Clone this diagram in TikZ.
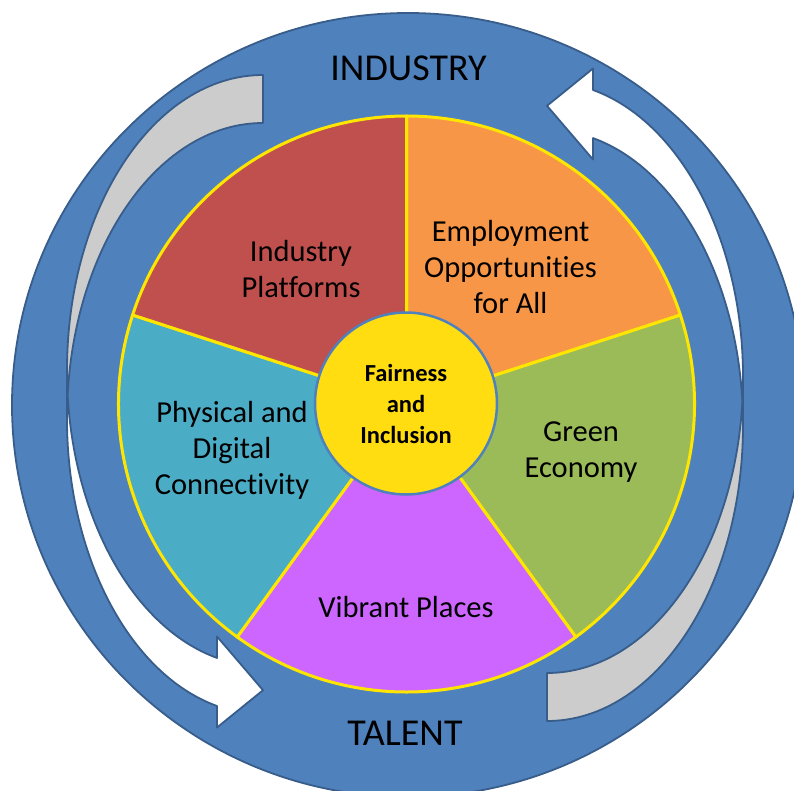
\documentclass[tikz,border=0pt]{standalone}
\usepackage{fontspec}
\setmainfont{Carlito}[Ligatures=NoCommon]
\definecolor{ringfill}{HTML}{4F81BD}
\definecolor{ringline}{HTML}{385D8A}
\definecolor{backgray}{HTML}{CCCCCC}
\definecolor{segred}{HTML}{C0504D}
\definecolor{segorange}{HTML}{F79646}
\definecolor{seggreen}{HTML}{9BBB59}
\definecolor{segpurple}{HTML}{CC66FF}
\definecolor{segteal}{HTML}{4BACC6}
\definecolor{hubyellow}{HTML}{FFDD11}
\definecolor{rimyellow}{HTML}{FFE600}
% one curved band arrow: tail at the top, head at the bottom pointing right
\newcommand{\bandarrow}{%
  \fill[white] (67,370.6)
    arc[start angle=180,end angle=103.57,x radius=196,y radius=295.6]
    -- (217,636.5) -- (263,690.2) -- (217,727.5) -- (217,706)
    arc[start angle=103.57,end angle=180,x radius=196,y radius=295.6] -- cycle;
  \fill[backgray] (263,75)
    arc[start angle=270,end angle=175.34,x radius=196,y radius=295.6]
    arc[start angle=184.66,end angle=270,x radius=196,y radius=295.6] -- cycle;
  \draw[arrowedge] (67,370.6)
    arc[start angle=180,end angle=103.57,x radius=196,y radius=295.6]
    -- (217,636.5) -- (263,690.2) -- (217,727.5) -- (217,706)
    arc[start angle=103.57,end angle=180,x radius=196,y radius=295.6]
    -- (67,370.6)
    arc[start angle=180,end angle=270,x radius=196,y radius=295.6]
    -- (263,123)
    arc[start angle=270,end angle=184.66,x radius=196,y radius=295.6];
}
\begin{document}
\begin{tikzpicture}[x=1pt,y=-1pt,
  ringstyle/.style={fill=ringfill,draw=ringline,line width=1.8pt},
  arrowedge/.style={draw=ringline,line width=1.8pt,line join=round},
  slice/.style={draw=rimyellow,line width=3pt,line join=round},
  seglabel/.style={font=\fontsize{30.5}{36}\selectfont,align=center,text=black,inner sep=0pt},
  ringlabel/.style={font=\fontsize{38}{44}\selectfont,text=black,inner sep=0pt,anchor=base},
  hub/.style={circle,fill=hubyellow,draw=ringfill,line width=2.5pt,minimum size=182pt,inner sep=0pt,
    font=\bfseries\fontsize{24.5}{31}\selectfont,align=center,text=black}]
\useasboundingbox (0,0) rectangle (794,790);
\clip (0,0) rectangle (794,790);

% outer ring
\path[ringstyle] (408,405) ellipse[x radius=396,y radius=392];

% circulation arrows
\begin{scope}\bandarrow\end{scope}
\begin{scope}[rotate around={180:(405,398)}]\bandarrow\end{scope}

% pie of five themes
\coordinate (pc) at (406.5,404);
\path[slice,fill=segorange] (pc) -- ++(-90:288) arc[start angle=-90,end angle=-18,radius=288] -- cycle;
\path[slice,fill=seggreen]  (pc) -- ++(-18:288) arc[start angle=-18,end angle=54,radius=288] -- cycle;
\path[slice,fill=segpurple] (pc) -- ++(54:288) arc[start angle=54,end angle=126,radius=288] -- cycle;
\path[slice,fill=segteal]   (pc) -- ++(126:288) arc[start angle=126,end angle=198,radius=288] -- cycle;
\path[slice,fill=segred]    (pc) -- ++(198:288) arc[start angle=198,end angle=270,radius=288] -- cycle;

\node[hub] (hub) at (406,403.5) {Fairness\\and\\Inclusion};

\node[seglabel] (plat) at (301,269.5) {Industry\\Platforms};
\node[seglabel] (empl) at (510.5,267) {Employment\\Opportunities\\for All};
\node[seglabel] (phys) at (232,450.5) {Physical and\\Digital\\Connectivity};
\node[seglabel] (green) at (581,452) {Green\\Economy};
\node[seglabel,anchor=base] (vibr) at (406,617) {Vibrant Places};

\node[ringlabel] (ind) at (408.5,80) {INDUSTRY};
\node[ringlabel] (tal) at (405,745) {TALENT};
\end{tikzpicture}
\end{document}
